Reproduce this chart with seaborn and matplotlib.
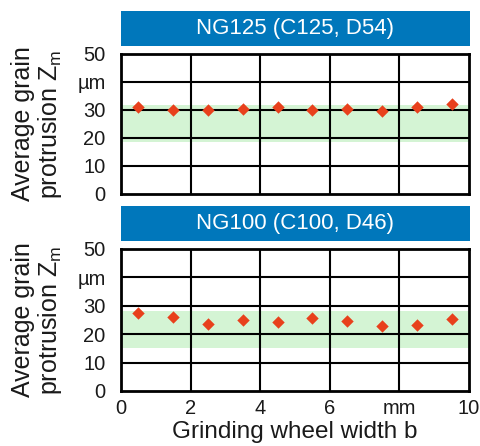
import numpy as np
import pandas as pd
import matplotlib
matplotlib.use("Agg")
import matplotlib.pyplot as plt
import seaborn as sns

# grinding wheel width positions (mm)
width_b = [0.5, 1.5, 2.5, 3.5, 4.5, 5.5, 6.5, 7.5, 8.5, 9.5]

# average grain protrusion Zm (µm)
zm_ng125 = [31.2, 29.9, 30.0, 30.2, 31.1, 30.0, 30.5, 29.5, 31.0, 32.0]
zm_ng100 = [27.3, 26.1, 23.6, 25.0, 24.3, 25.7, 24.8, 22.9, 23.4, 25.5]

# shaded range per grit
band_ng125 = (18.6, 31.8)
band_ng100 = (15.3, 28.2)

titles = ["NG125 (C125, D54)", "NG100 (C100, D46)"]
y_ticks = [0, 10, 20, 30, 40, 50]
y_ticklabels = ["0", "10", "20", "30", "µm", "50"]
x_ticks = [0, 2, 4, 6, 8, 10]
x_ticklabels = ["0", "2", "4", "6", "mm", "10"]

sns.set_style("white")
plt.rcParams["font.family"] = ["Liberation Sans", "DejaVu Sans"]
plt.rcParams["text.color"] = "#1a1a1a"
plt.rcParams["axes.labelcolor"] = "#1a1a1a"
plt.rcParams["xtick.color"] = "#1a1a1a"
plt.rcParams["ytick.color"] = "#1a1a1a"

BLUE = "#0077bb"
GREEN = "#d4f4d4"
RED = "#e8401c"

fig = plt.figure(figsize=(4.8, 4.46), dpi=100)
W, H = 480, 446


def px_axes(x0, y0, x1, y1):
    return fig.add_axes([x0 / W, 1 - y1 / H, (x1 - x0) / W, (y1 - y0) / H])


panels = [
    (zm_ng125, band_ng125, (11, 46), (54, 194)),
    (zm_ng100, band_ng100, (206, 241), (249, 391)),
]

for i, (vals, band, (by0, by1), (ay0, ay1)) in enumerate(panels):
    # title banner
    bax = px_axes(121, by0, 470, by1)
    bax.set_facecolor(BLUE)
    bax.set_xticks([])
    bax.set_yticks([])
    for s in bax.spines.values():
        s.set_visible(False)
    bax.text(0.5, 0.5, titles[i], color="white", fontsize=16,
             ha="center", va="center", transform=bax.transAxes)

    ax = px_axes(121, ay0, 469, ay1)
    df = pd.DataFrame({"b": width_b, "zm": vals})
    ax.axhspan(band[0], band[1], color=GREEN, zorder=0, lw=0)
    for gx in [2, 4, 6, 8]:
        ax.axvline(gx, color="black", lw=1.5, zorder=1)
    for gy in [10, 20, 30, 40]:
        ax.axhline(gy, color="black", lw=1.5, zorder=1)
    sns.scatterplot(data=df, x="b", y="zm", ax=ax, marker="D", s=40,
                    color=RED, edgecolor=RED, linewidth=0, zorder=3)
    ax.set_xlim(0, 10)
    ax.set_ylim(0, 50)
    ax.set_yticks(y_ticks)
    ax.set_yticklabels(y_ticklabels, fontsize=14.5)
    ax.set_xticks(x_ticks)
    if i == 1:
        ax.set_xticklabels(x_ticklabels, fontsize=14.5)
        ax.set_xlabel("Grinding wheel width b", fontsize=17.5, labelpad=2)
    else:
        ax.set_xticklabels([])
        ax.set_xlabel("")
    ax.tick_params(axis="y", length=0, pad=11)
    ax.tick_params(axis="x", length=0, pad=6)
    ax.set_ylabel("Average grain\nprotrusion Z$_\\mathregular{m}$", fontsize=18,
                  linespacing=1.05)
    ax.yaxis.set_label_coords(-0.163, 0.5)
    for s in ax.spines.values():
        s.set_visible(True)
        s.set_color("black")
        s.set_linewidth(2)

fig.savefig("out.png", dpi=100)
